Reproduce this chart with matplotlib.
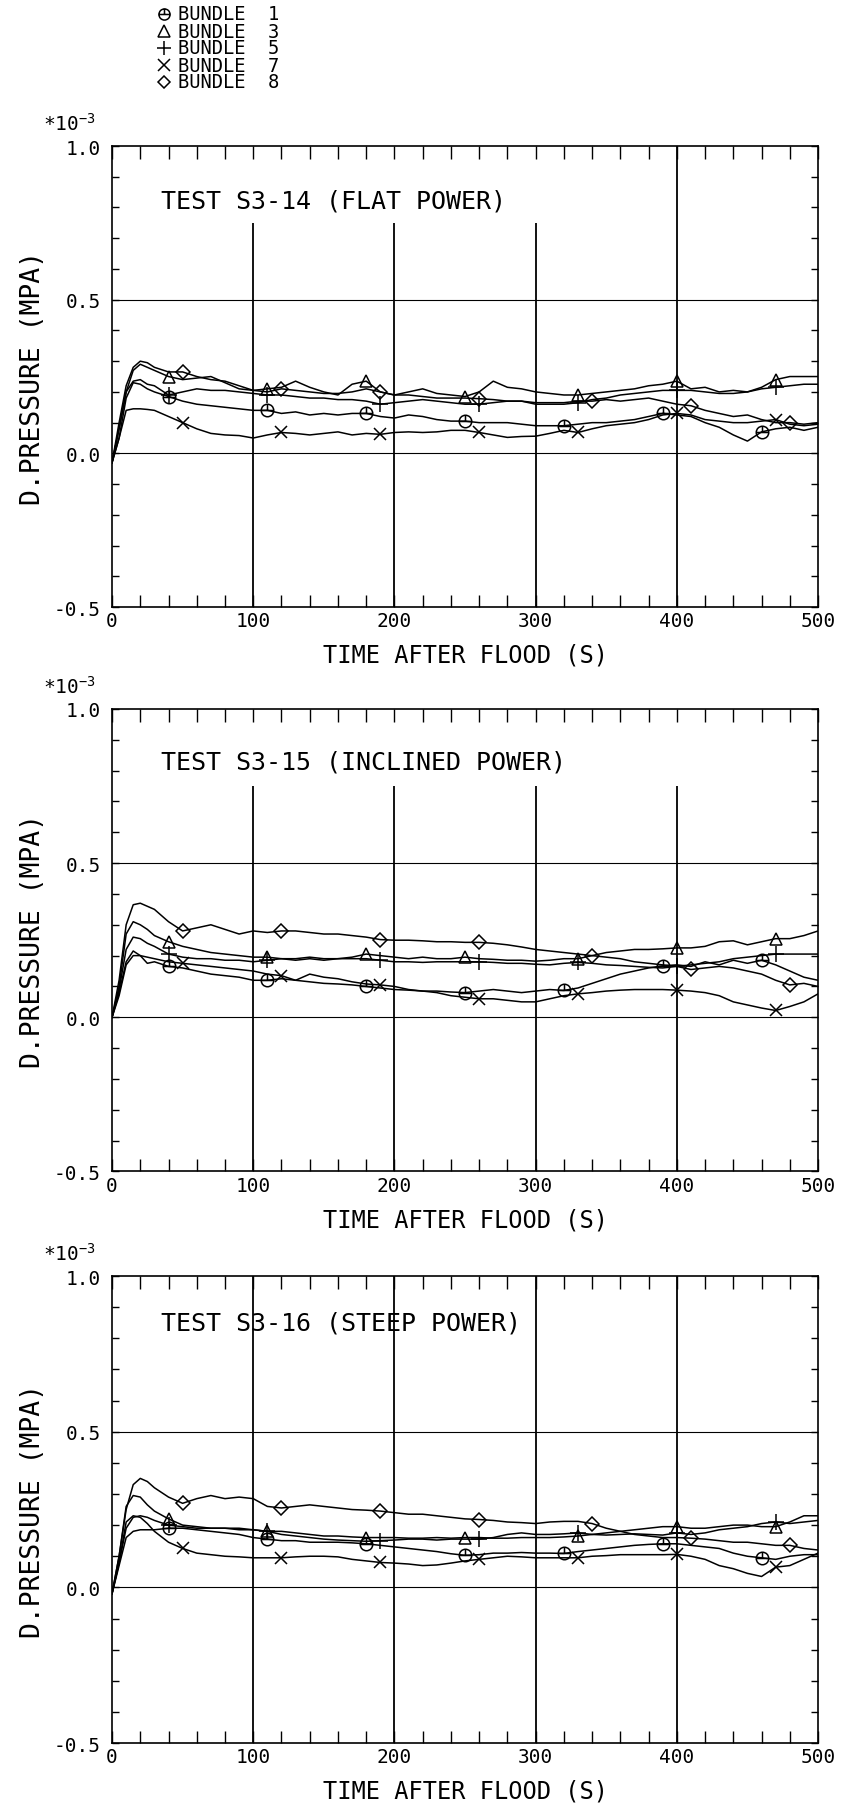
import numpy as np
import matplotlib
matplotlib.use('Agg')
import matplotlib.pyplot as plt
from matplotlib.lines import Line2D
from matplotlib.path import Path
from matplotlib.ticker import MultipleLocator, FixedLocator

plt.rcParams['font.family'] = 'DejaVu Sans Mono'
plt.rcParams['axes.unicode_minus'] = False
plt.rcParams['mathtext.fontset'] = 'custom'
plt.rcParams['mathtext.rm'] = 'DejaVu Sans Mono'

# ---------------- data (units of 1e-3 MPa) ----------------
time = [0, 5, 10, 15, 20, 25, 30] + list(range(40, 501, 10))

# test S3-14 flat power
p1_b1 = [-0.03, 0.05, 0.18, 0.23, 0.225, 0.21, 0.20,
         0.185, 0.17, 0.16, 0.155, 0.15, 0.145, 0.14,
         0.14, 0.13, 0.135, 0.125, 0.13, 0.125, 0.13, 0.13, 0.12, 0.115,
         0.125, 0.12, 0.11, 0.105, 0.105, 0.10, 0.10, 0.10, 0.095, 0.09,
         0.09, 0.09, 0.095, 0.10, 0.10, 0.105, 0.11, 0.12, 0.13, 0.125,
         0.12, 0.10, 0.085, 0.06, 0.04, 0.07, 0.08, 0.085, 0.075, 0.085]
p1_b3 = [-0.03, 0.08, 0.20, 0.27, 0.29, 0.28, 0.27,
         0.25, 0.24, 0.245, 0.25, 0.23, 0.21, 0.205,
         0.21, 0.215, 0.235, 0.215, 0.20, 0.19, 0.225, 0.235, 0.20, 0.19,
         0.20, 0.21, 0.195, 0.19, 0.185, 0.20, 0.235, 0.215, 0.21, 0.20,
         0.195, 0.19, 0.19, 0.195, 0.20, 0.205, 0.21, 0.22, 0.225, 0.235,
         0.21, 0.215, 0.20, 0.205, 0.20, 0.215, 0.24, 0.25, 0.25, 0.25]
p1_b5 = [-0.03, 0.08, 0.20, 0.235, 0.24, 0.225, 0.22,
         0.19, 0.20, 0.21, 0.205, 0.205, 0.20, 0.195,
         0.19, 0.19, 0.185, 0.18, 0.18, 0.175, 0.175, 0.17, 0.16, 0.165,
         0.17, 0.175, 0.17, 0.165, 0.16, 0.16, 0.165, 0.17, 0.17, 0.16,
         0.16, 0.16, 0.165, 0.175, 0.18, 0.19, 0.195, 0.20, 0.205, 0.205,
         0.205, 0.20, 0.195, 0.195, 0.20, 0.21, 0.215, 0.22, 0.225, 0.225]
p1_b7 = [-0.03, 0.05, 0.14, 0.145, 0.145, 0.143, 0.14,
         0.12, 0.10, 0.08, 0.065, 0.06, 0.058, 0.05,
         0.06, 0.068, 0.065, 0.06, 0.065, 0.07, 0.06, 0.065, 0.062, 0.068,
         0.07, 0.068, 0.07, 0.075, 0.075, 0.068, 0.06, 0.052, 0.055, 0.056,
         0.065, 0.075, 0.068, 0.08, 0.09, 0.095, 0.10, 0.11, 0.125, 0.13,
         0.125, 0.11, 0.105, 0.10, 0.10, 0.105, 0.11, 0.095, 0.09, 0.095]
p1_b8 = [-0.03, 0.10, 0.22, 0.28, 0.30, 0.295, 0.28,
         0.265, 0.265, 0.25, 0.24, 0.235, 0.22, 0.205,
         0.20, 0.21, 0.205, 0.20, 0.195, 0.195, 0.20, 0.21, 0.20, 0.19,
         0.19, 0.185, 0.18, 0.18, 0.18, 0.178, 0.175, 0.17, 0.17, 0.165,
         0.165, 0.165, 0.17, 0.17, 0.175, 0.17, 0.175, 0.18, 0.17, 0.16,
         0.155, 0.14, 0.13, 0.12, 0.125, 0.11, 0.10, 0.10, 0.095, 0.10]

# test S3-15 inclined power
p2_b1 = [0.0, 0.08, 0.18, 0.215, 0.20, 0.175, 0.18,
         0.165, 0.16, 0.15, 0.14, 0.135, 0.13, 0.12,
         0.12, 0.125, 0.12, 0.115, 0.11, 0.108, 0.105, 0.10, 0.095, 0.09,
         0.088, 0.085, 0.085, 0.082, 0.08, 0.085, 0.09, 0.085, 0.08, 0.085,
         0.09, 0.087, 0.095, 0.11, 0.125, 0.14, 0.15, 0.16, 0.167, 0.17,
         0.165, 0.18, 0.17, 0.185, 0.175, 0.185, 0.17, 0.15, 0.13, 0.12]
p2_b3 = [0.0, 0.10, 0.27, 0.31, 0.30, 0.285, 0.265,
         0.245, 0.23, 0.22, 0.21, 0.205, 0.20, 0.195,
         0.195, 0.19, 0.19, 0.195, 0.19, 0.19, 0.195, 0.205, 0.20, 0.195,
         0.19, 0.195, 0.19, 0.19, 0.195, 0.19, 0.188, 0.185, 0.185, 0.182,
         0.185, 0.19, 0.19, 0.20, 0.21, 0.215, 0.22, 0.22, 0.222, 0.225,
         0.225, 0.23, 0.245, 0.248, 0.235, 0.245, 0.255, 0.255, 0.265, 0.28]
p2_b5 = [0.0, 0.09, 0.22, 0.26, 0.255, 0.24, 0.23,
         0.205, 0.195, 0.19, 0.19, 0.185, 0.185, 0.18,
         0.185, 0.19, 0.185, 0.19, 0.185, 0.19, 0.19, 0.19, 0.185, 0.18,
         0.18, 0.178, 0.18, 0.18, 0.18, 0.18, 0.178, 0.175, 0.175, 0.172,
         0.17, 0.175, 0.178, 0.175, 0.17, 0.168, 0.165, 0.162, 0.16, 0.165,
         0.17, 0.175, 0.18, 0.19, 0.195, 0.20, 0.205, 0.205, 0.205, 0.205]
p2_b7 = [0.0, 0.07, 0.17, 0.20, 0.20, 0.195, 0.19,
         0.18, 0.175, 0.17, 0.165, 0.16, 0.155, 0.15,
         0.14, 0.135, 0.12, 0.14, 0.13, 0.125, 0.115, 0.108, 0.105, 0.10,
         0.09, 0.085, 0.08, 0.07, 0.065, 0.06, 0.06, 0.055, 0.05, 0.05,
         0.06, 0.07, 0.076, 0.08, 0.085, 0.088, 0.09, 0.09, 0.09, 0.088,
         0.085, 0.08, 0.07, 0.05, 0.04, 0.03, 0.022, 0.035, 0.05, 0.076]
p2_b8 = [0.0, 0.12, 0.30, 0.365, 0.37, 0.36, 0.35,
         0.31, 0.28, 0.29, 0.30, 0.285, 0.27, 0.28,
         0.275, 0.28, 0.28, 0.275, 0.27, 0.27, 0.265, 0.26, 0.252, 0.25,
         0.25, 0.248, 0.245, 0.245, 0.243, 0.243, 0.24, 0.235, 0.228, 0.22,
         0.215, 0.21, 0.205, 0.20, 0.195, 0.19, 0.18, 0.175, 0.17, 0.165,
         0.155, 0.16, 0.165, 0.16, 0.15, 0.14, 0.12, 0.105, 0.11, 0.10]

# test S3-16 steep power
p3_b1 = [-0.02, 0.07, 0.16, 0.18, 0.185, 0.185, 0.185,
         0.19, 0.19, 0.185, 0.18, 0.175, 0.17, 0.16,
         0.155, 0.15, 0.15, 0.145, 0.145, 0.145, 0.143, 0.14, 0.135, 0.13,
         0.125, 0.12, 0.115, 0.108, 0.103, 0.105, 0.11, 0.11, 0.112, 0.11,
         0.11, 0.109, 0.115, 0.12, 0.125, 0.13, 0.135, 0.138, 0.14, 0.14,
         0.135, 0.13, 0.125, 0.11, 0.10, 0.095, 0.09, 0.10, 0.105, 0.105]
p3_b3 = [-0.02, 0.10, 0.26, 0.295, 0.29, 0.265, 0.245,
         0.22, 0.20, 0.195, 0.19, 0.19, 0.185, 0.185,
         0.18, 0.18, 0.175, 0.17, 0.165, 0.165, 0.162, 0.16, 0.16, 0.16,
         0.158, 0.158, 0.16, 0.158, 0.16, 0.16, 0.158, 0.158, 0.16, 0.16,
         0.16, 0.162, 0.165, 0.17, 0.175, 0.18, 0.185, 0.19, 0.195, 0.195,
         0.19, 0.19, 0.195, 0.20, 0.20, 0.195, 0.195, 0.21, 0.23, 0.23]
p3_b5 = [-0.02, 0.08, 0.19, 0.225, 0.23, 0.225, 0.215,
         0.20, 0.195, 0.19, 0.19, 0.19, 0.19, 0.185,
         0.18, 0.17, 0.165, 0.16, 0.155, 0.152, 0.15, 0.148, 0.15, 0.152,
         0.155, 0.155, 0.152, 0.155, 0.155, 0.155, 0.16, 0.17, 0.175, 0.17,
         0.17, 0.172, 0.175, 0.17, 0.168, 0.17, 0.172, 0.17, 0.168, 0.175,
         0.17, 0.175, 0.185, 0.19, 0.195, 0.205, 0.21, 0.205, 0.21, 0.215]
p3_b7 = [-0.02, 0.08, 0.21, 0.23, 0.225, 0.205, 0.18,
         0.145, 0.125, 0.11, 0.105, 0.10, 0.098, 0.095,
         0.095, 0.095, 0.098, 0.10, 0.10, 0.098, 0.09, 0.085, 0.08, 0.078,
         0.075, 0.07, 0.072, 0.078, 0.085, 0.09, 0.095, 0.10, 0.098, 0.095,
         0.095, 0.095, 0.095, 0.10, 0.102, 0.105, 0.105, 0.105, 0.105, 0.106,
         0.10, 0.09, 0.07, 0.06, 0.045, 0.035, 0.065, 0.07, 0.09, 0.11]
p3_b8 = [-0.02, 0.10, 0.25, 0.33, 0.35, 0.34, 0.32,
         0.29, 0.27, 0.285, 0.295, 0.285, 0.29, 0.285,
         0.26, 0.255, 0.26, 0.265, 0.26, 0.255, 0.25, 0.248, 0.245, 0.24,
         0.235, 0.235, 0.23, 0.225, 0.22, 0.218, 0.215, 0.21, 0.208, 0.205,
         0.21, 0.212, 0.212, 0.205, 0.19, 0.18, 0.17, 0.165, 0.16, 0.16,
         0.158, 0.155, 0.15, 0.145, 0.145, 0.14, 0.135, 0.135, 0.125, 0.12]

# symbol positions along each curve (s)
mk_b1 = [36, 107, 179, 250, 322, 393, 464]
mk_b3 = [40, 111, 183, 254, 326, 397, 469]
mk_b5 = [43, 114, 186, 257, 329, 400, 471]
mk_b7 = [46, 118, 189, 261, 332, 404, 475]
mk_b8 = [50, 121, 193, 264, 336, 407, 479]

bundles = ['BUNDLE  1', 'BUNDLE  3', 'BUNDLE  5', 'BUNDLE  7', 'BUNDLE  8']
titles = ['TEST S3-14 (FLAT POWER)', 'TEST S3-15 (INCLINED POWER)',
          'TEST S3-16 (STEEP POWER)']
title_y = [0.823, 0.83, 0.85]
grid_top = [[0.75, 0.75, 0.75, 1.0], [0.75, 0.75, 0.75, 0.75], [1.0, 1.0, 1.0, 1.0]]

panel_data = [[p1_b1, p1_b3, p1_b5, p1_b7, p1_b8],
              [p2_b1, p2_b3, p2_b5, p2_b7, p2_b8],
              [p3_b1, p3_b3, p3_b5, p3_b7, p3_b8]]
marks_t = [mk_b1, mk_b3, mk_b5, mk_b7, mk_b8]

# circle symbol with a stroke, like the plotter one
circ = Path.unit_circle()
circ_mk = Path(list(circ.vertices) + [(0, 1), (0, 0), (-1, 0), (1, 0)],
               list(circ.codes) + [Path.MOVETO, Path.LINETO, Path.MOVETO, Path.LINETO])
markers = [circ_mk, '^', '+', 'x', 'D']
msizes = [9, 9, 11, 9, 7]

t = np.array(time)

fig = plt.figure(figsize=(8.43, 18.06), dpi=100)
boxes = [[0.1329, 0.6633, 0.8375, 0.2553],
         [0.1329, 0.3508, 0.8375, 0.2561],
         [0.1329, 0.0343, 0.8375, 0.2586]]

for p in range(3):
    ax = fig.add_axes(boxes[p])
    ax.set_xlim(0, 500)
    ax.set_ylim(-0.5, 1.0)

    ax.axhline(0.5, color='k', lw=0.8, zorder=1)
    ax.axhline(0.0, color='k', lw=0.8, zorder=1)
    for xv, top in zip([100, 200, 300, 400], grid_top[p]):
        ax.vlines(xv, -0.5, top, color='k', lw=1.3, zorder=1)

    for i in range(5):
        y = np.array(panel_data[p][i])
        idx = [int(np.argmin(np.abs(t - m))) for m in marks_t[i]]
        ax.plot(t, y, color='k', lw=1.1, marker=markers[i], ms=msizes[i],
                mfc='none', mec='k', mew=1.1, markevery=idx, zorder=3)

    ax.text(35, title_y[p], titles[p], fontsize=18, va='center')

    ax.xaxis.set_major_locator(FixedLocator([0, 100, 200, 300, 400, 500]))
    ax.xaxis.set_minor_locator(MultipleLocator(20))
    ax.yaxis.set_major_locator(FixedLocator([-0.5, 0.0, 0.5, 1.0]))
    ax.yaxis.set_minor_locator(MultipleLocator(0.1))
    ax.set_yticklabels(['-0.5', '0.0', '0.5', '1.0'])
    ax.tick_params(which='both', direction='in', top=True, right=True,
                   labelsize=14, width=1.0)
    ax.tick_params(axis='x', which='both', length=9, pad=3)
    ax.tick_params(axis='y', which='both', length=5, pad=8)
    for s in ax.spines.values():
        s.set_linewidth(1.2)

    ax.set_xlabel('TIME AFTER FLOOD (S)', fontsize=17, labelpad=9)
    ax.set_ylabel('D.PRESSURE (MPA)', fontsize=19, labelpad=6)
    ax.text(-0.098, 1.026, '*10$^{-3}$', transform=ax.transAxes,
            fontsize=14, va='bottom', ha='left')

# symbol key in the top left corner
for i, name in enumerate(bundles):
    yk = 1 - (15 + 17 * i) / 1806
    fig.add_artist(Line2D([164 / 843], [yk], transform=fig.transFigure,
                          marker=markers[i], ms=msizes[i] - 1, mfc='none',
                          mec='k', mew=1.1, linestyle='none'))
    fig.text(178 / 843, yk, name, fontsize=13.5, va='center', ha='left')

fig.savefig('out.png', dpi=100)
